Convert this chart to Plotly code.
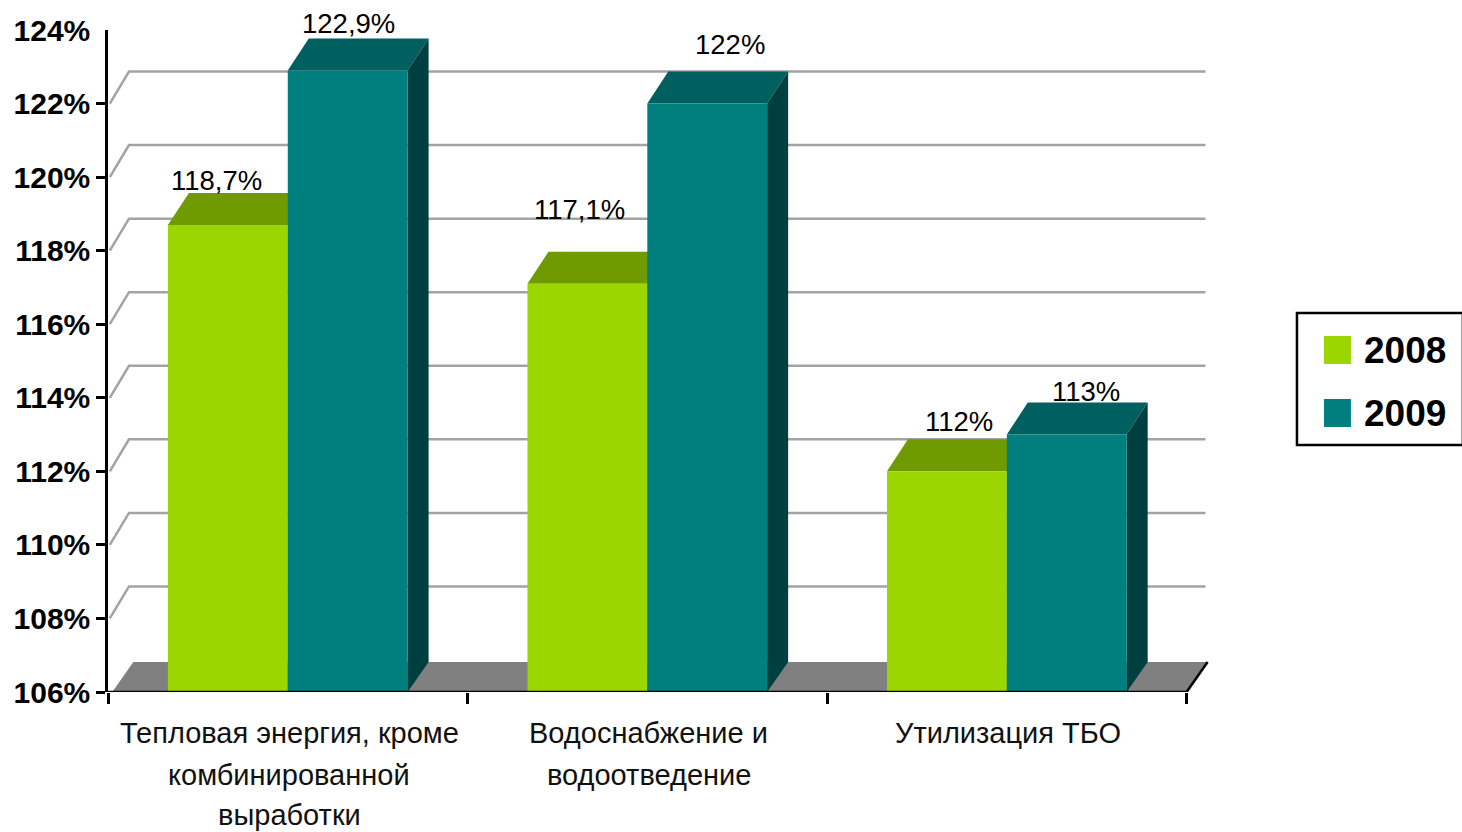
import plotly.graph_objects as go

# ---- data ----
CATEGORY_LINES = [
    ["Тепловая энергия, кроме", "комбинированной", "выработки"],
    ["Водоснабжение и", "водоотведение"],
    ["Утилизация ТБО"],
]
SERIES_NAMES = ["2008", "2009"]
VALUES_2008 = [118.7, 117.1, 112.0]
VALUES_2009 = [122.9, 122.0, 113.0]
LABELS_2008 = ["118,7%", "117,1%", "112%"]
LABELS_2009 = ["122,9%", "122%", "113%"]
Y_TICKS = [106, 108, 110, 112, 114, 116, 118, 120, 122, 124]
Y_TICK_TEXT = [f"{v}%" for v in Y_TICKS]

# ---- style / layout ----
W, H = 1462, 832
L, R, T, B = 107.5, 1212, 30, 692
PX_PER_X = 359.7
PX_PER_Y = (B - T) / 18
X_MAX = (R - L) / PX_PER_X
DX = 21 / PX_PER_X
DY = 32 / PX_PER_Y
FLOOR_DY = 30 / PX_PER_Y
BAR_W = 1 / 3
FONT = "Liberation Sans"
GREEN, GREEN_TOP, GREEN_SIDE = "#9BD600", "#6F9A00", "#4F6E00"
TEAL, TEAL_TOP, TEAL_SIDE = "#007F7F", "#005F5F", "#003F3F"
GRID = "#A3A3A3"
FLOOR = "#808080"
# pixel nudges of the data labels relative to the front-top centre of their bar
SHIFT_2008 = [(-11, 44), (-8, 74), (12, 50)]
SHIFT_2009 = [(1, 47), (23, 59), (19, 43)]


def px(x):
    return (x - L) / (R - L)


def py(y):
    return (B - y) / (B - T)


centers = [i + 0.5 for i in range(len(VALUES_2008))]
fig = go.Figure()

# back wall gridlines
gx, gy = [], []
for v in Y_TICKS[1:-1]:
    gx += [0.005, DX, 3 + DX * 0.9, None]
    gy += [v, v + DY, v + DY, None]
fig.add_trace(go.Scatter(x=gx, y=gy, mode="lines", line=dict(color=GRID, width=2.5),
                         hoverinfo="skip", showlegend=False))

# floor
fig.add_trace(go.Scatter(
    x=[0.012, DX + 0.012, 3 + DX, 3, 0.012],
    y=[106, 106 + FLOOR_DY, 106 + FLOOR_DY, 106, 106],
    mode="lines", fill="toself", fillcolor=FLOOR, line=dict(width=0),
    hoverinfo="skip", showlegend=False))
fig.add_trace(go.Scatter(x=[3, 3 + DX], y=[106, 106 + FLOOR_DY], mode="lines",
                         line=dict(color="black", width=2.5),
                         hoverinfo="skip", showlegend=False))


def depth_faces(values, offset, top_col, side_col):
    tx, ty, sx, sy = [], [], [], []
    for c, v in zip(centers, values):
        x0, x1 = c + offset, c + offset + BAR_W
        tx += [x0, x0 + DX, x1 + DX, x1, x0, None]
        ty += [v, v + DY, v + DY, v, v, None]
        sx += [x1, x1 + DX, x1 + DX, x1, x1, None]
        sy += [v, v + DY, 106 + FLOOR_DY, 106, v, None]
    for xs, ys, col in ((tx, ty, top_col), (sx, sy, side_col)):
        fig.add_trace(go.Scatter(x=xs, y=ys, mode="lines", fill="toself", fillcolor=col,
                                 line=dict(width=0), hoverinfo="skip", showlegend=False))


depth_faces(VALUES_2008, -BAR_W, GREEN_TOP, GREEN_SIDE)
depth_faces(VALUES_2009, 0, TEAL_TOP, TEAL_SIDE)

# front faces
fig.add_trace(go.Bar(name=SERIES_NAMES[0], x=[c - BAR_W / 2 for c in centers], y=VALUES_2008,
                     width=BAR_W, marker=dict(color=GREEN, line=dict(width=0)),
                     xaxis="x2", yaxis="y2", showlegend=False))
fig.add_trace(go.Bar(name=SERIES_NAMES[1], x=[c + BAR_W / 2 for c in centers], y=VALUES_2009,
                     width=BAR_W, marker=dict(color=TEAL, line=dict(width=0)),
                     xaxis="x2", yaxis="y2", showlegend=False))

annotations = []
# data labels
for vals, labs, shifts, off in ((VALUES_2008, LABELS_2008, SHIFT_2008, -BAR_W / 2),
                                (VALUES_2009, LABELS_2009, SHIFT_2009, BAR_W / 2)):
    for c, v, t, (sx, sy) in zip(centers, vals, labs, shifts):
        annotations.append(dict(x=c + off, y=v, xref="x2", yref="y2", text=t, showarrow=False,
                                xshift=sx, yshift=sy, font=dict(family=FONT, size=27.5, color="black")))
# category labels
LINE_Y = [733, 775, 815]
for c, lines in zip(centers, CATEGORY_LINES):
    for line, ly in zip(lines, LINE_Y):
        annotations.append(dict(x=c, y=py(ly), xref="x2", yref="paper", text=line, showarrow=False,
                                xshift=1.5, yanchor="middle",
                                font=dict(family=FONT, size=29, color="#111111")))

# legend
shapes = [dict(type="rect", xref="paper", yref="paper", x0=px(1297), x1=px(1463), y0=py(313), y1=py(445),
               line=dict(color="black", width=2.5), fillcolor="white", layer="above")]
for name, col, sy in zip(SERIES_NAMES, (GREEN, TEAL), (336, 399)):
    shapes.append(dict(type="rect", xref="paper", yref="paper", x0=px(1324), x1=px(1351), y0=py(sy), y1=py(sy + 28),
                       line=dict(width=0), fillcolor=col, layer="above"))
    annotations.append(dict(x=px(1362), y=py(sy + 14), xref="paper", yref="paper", text=name, showarrow=False,
                            xanchor="left", yanchor="middle",
                            font=dict(family=FONT, size=37, color="black", weight="bold")))

fig.update_layout(
    width=W, height=H, margin=dict(l=L, r=W - R, t=T, b=H - B, pad=0, autoexpand=False),
    paper_bgcolor="white", plot_bgcolor="white", barmode="overlay", showlegend=False,
    xaxis=dict(range=[0, X_MAX], visible=False, fixedrange=True),
    yaxis=dict(range=[106, 124], visible=False, fixedrange=True),
    xaxis2=dict(overlaying="x", range=[0, X_MAX], showgrid=False, zeroline=False, showticklabels=False,
                ticks="", showline=False, anchor="y2",
                minor=dict(tickmode="array", tickvals=[0, 1, 2, 3], ticks="outside", ticklen=11,
                           tickwidth=2.5, tickcolor="black", showgrid=False)),
    yaxis2=dict(overlaying="y", range=[106, 124], showgrid=False, zeroline=False, anchor="x2", side="left",
                tickmode="array", tickvals=Y_TICKS, ticktext=Y_TICK_TEXT, ticks="", showline=True,
                linecolor="black", linewidth=2.5, ticklabelstandoff=9,
                tickfont=dict(family=FONT, size=30, color="black", weight="bold"),
                minor=dict(tickmode="array", tickvals=Y_TICKS[:-1], ticks="outside", ticklen=9,
                           tickwidth=2.5, tickcolor="black", showgrid=False)),
    shapes=shapes, annotations=annotations,
)
# horizontal baseline
fig.add_trace(go.Scatter(x=[0, 3], y=[106, 106], mode="lines", line=dict(color="black", width=2.5),
                         xaxis="x2", yaxis="y2", cliponaxis=False, hoverinfo="skip", showlegend=False))

fig.write_html("out.html", config=dict(displayModeBar=False),
               post_script="document.body.style.margin='0';window.dispatchEvent(new Event('resize'));")
